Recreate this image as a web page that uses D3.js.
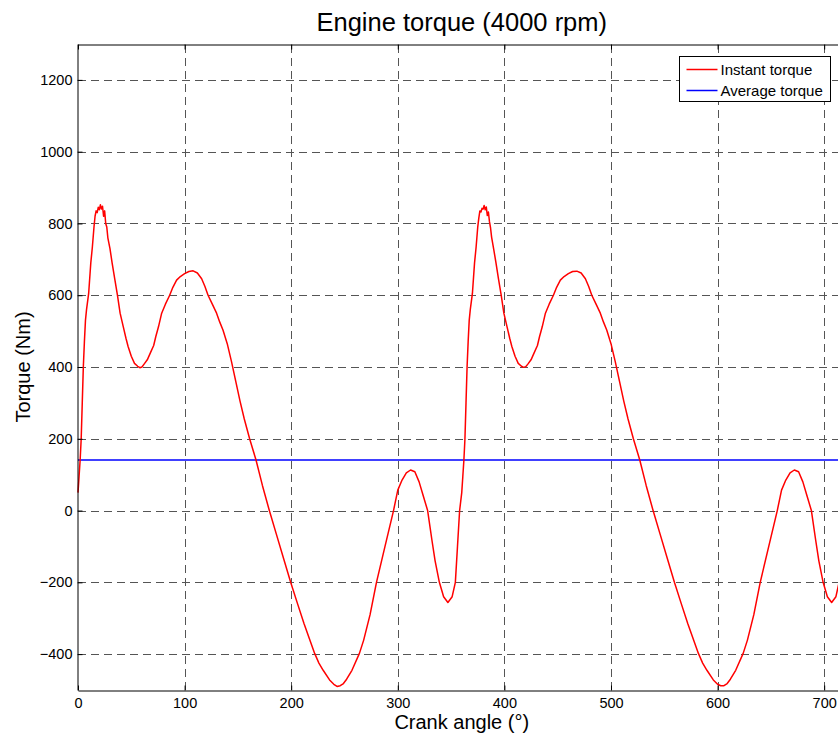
<!DOCTYPE html>
<html>
    <head>
        <title>Engine torque</title>
        <script src="https://d3js.org/d3.v7.min.js"></script>
        <style>
            body { margin: 0; background: #fff; }
            text { font-family: "Liberation Sans", Arial, Helvetica, sans-serif; fill: #000; }
        </style>
    </head>
    <body>
        <script>
            // crank angle (deg) and instant torque (Nm)
            var crankAngle = [
                0,1,2,3,4,5,6,7,8,10,12,13.5,15,16,17,18,19,20,21,22,23,24,25,26,27,28,30,32,34.5,37,39.5,42.5,45,47,50,53,56,58,60,62,65,68,71,73,75.5,78.5,82,86,89,92.5,96,100,104,108,112,116,119,122,126,130,133,136,140,144,148,152,156,161,167,173,179.5,186,193,199.5,206,212,218,222,226,230,236,240,243,246,249,252,257,264,268,274,280,288,296,300,304,308,312,316,320,324,328,332,335,339,343,347,351,354,356,358,
                360,361,362,363,364,365,366,367,368,370,372,373.5,375,376,377,378,379,380,381,382,383,384,385,386,387,388,390,392,394.5,397,399.5,402.5,405,407,410,413,416,418,420,422,425,428,431,433,435.5,438.5,442,446,449,452.5,456,460,464,468,472,476,479,482,486,490,493,496,500,504,508,512,516,521,527,533,539.5,546,553,559.5,566,572,578,582,586,590,596,600,603,606,609,612,617,624,628,634,640,648,656,660,664,668,672,676,680,684,688,692,695,699,703,707,711,714,716,718,720
            ];
            var instantTorque = [
                50,95,140,200,300,400,470,530,560,605,690,735,790,820,835,830,845,838,852,840,848,820,835,800,790,760,730,690,645,600,550,512,480,457,430,410,402,398,400,408,420,440,460,485,512,550,575,600,622,642,652,660,666,668,662,646,625,600,575,550,525,503,465,415,360,305,255,200,141,70,0,-65,-135,-200,-260,-315,-365,-398,-425,-445,-472,-484,-490,-488,-482,-470,-445,-398,-361,-290,-200,-100,0,57,85,105,113,108,80,40,0,-82,-140,-200,-240,-256,-240,-200,-100,0,
                50,95,140,200,300,400,470,530,560,605,690,735,790,815,835,832,842,840,850,838,846,822,832,805,788,762,728,692,645,600,550,512,480,457,430,410,402,399,401,408,420,440,460,485,512,550,575,600,622,642,652,660,666,667,662,646,625,600,575,550,525,503,465,415,360,305,255,200,141,70,0,-65,-135,-200,-260,-315,-365,-398,-425,-445,-472,-484,-488,-488,-482,-470,-445,-398,-361,-290,-200,-100,0,57,85,105,113,108,80,40,0,-82,-140,-200,-240,-256,-240,-200,-100,0,55
            ];
            var averageTorque = 141;

            var xTicks = [0,100,200,300,400,500,600,700];
            var yTicks = [-400,-200,0,200,400,600,800,1000,1200];
            var legendLabels = ["Instant torque","Average torque"];
            var legendColors = ["#ff0000","#0000ff"];

            var width = 838;
            var height = 734;
            var plotLeft = 78, plotRight = 845.5, plotTop = 44, plotBottom = 690;

            var x = d3.scaleLinear().domain([0,720]).range([plotLeft,plotRight]);
            var y = d3.scaleLinear().domain([-500,1300]).range([plotBottom,plotTop]);

            var svg = d3.select("body")
                        .append("svg")
                        .attr("width",width)
                        .attr("height",height);

            // grid
            var grid = svg.append("g")
                          .attr("stroke","#555")
                          .attr("stroke-width",1)
                          .attr("stroke-dasharray","8,5");
            grid.selectAll("line.vx")
                .data(xTicks.filter(function(d){ return d > 0; }))
                .enter()
                    .append("line")
                    .attr("x1",function(d){ return Math.round(x(d)) + 0.5; })
                    .attr("x2",function(d){ return Math.round(x(d)) + 0.5; })
                    .attr("y1",plotBottom)
                    .attr("y2",plotTop);
            grid.selectAll("line.hy")
                .data(yTicks)
                .enter()
                    .append("line")
                    .attr("y1",function(d){ return Math.round(y(d)) + 0.5; })
                    .attr("y2",function(d){ return Math.round(y(d)) + 0.5; })
                    .attr("x1",plotLeft)
                    .attr("x2",plotRight);

            // data lines
            var plot = svg.append("g");
            var line = d3.line()
                         .x(function(d){ return x(d[0]); })
                         .y(function(d){ return y(d[1]); });

            var instant = crankAngle.map(function(a,i){ return [a, instantTorque[i]]; });

            plot.append("path")
                .datum([[0,averageTorque],[720,averageTorque]])
                .attr("d",line)
                .attr("fill","none")
                .attr("stroke","#0000ff")
                .attr("stroke-width",1.6);

            plot.append("path")
                .datum(instant)
                .attr("d",line)
                .attr("fill","none")
                .attr("stroke","#ff0000")
                .attr("stroke-width",1.5)
                .attr("stroke-linejoin","round");

            // axes (MATLAB style, ticks inward, box)
            var xAxis = d3.axisBottom(x).tickValues(xTicks).tickSize(-5).tickPadding(7).tickSizeOuter(0).tickFormat(d3.format("d"));
            var yAxis = d3.axisLeft(y).tickValues(yTicks).tickSize(-5).tickPadding(5).tickSizeOuter(0).tickFormat(d3.format("d"));
            var xTop = d3.axisTop(x).tickValues(xTicks).tickSize(-5).tickFormat("").tickSizeOuter(0);

            svg.append("g")
               .attr("transform","translate(0," + (plotBottom + 0.5) + ")")
               .call(xAxis)
               .selectAll("text")
                  .attr("font-size",14.5)
                  .attr("font-family","Liberation Sans, Arial, sans-serif");

            svg.append("g")
               .attr("transform","translate(0," + (plotTop + 0.5) + ")")
               .call(xTop);

            svg.append("g")
               .attr("transform","translate(" + (plotLeft - 0.5) + ",0)")
               .call(yAxis)
               .selectAll("text")
                  .attr("font-size",14.5)
                  .attr("font-family","Liberation Sans, Arial, sans-serif");

            svg.selectAll(".domain").attr("stroke","#000");
            svg.selectAll(".tick line").attr("stroke","#000");

            // title and axis labels
            svg.append("text")
               .attr("x",(plotLeft + plotRight) / 2)
               .attr("y",31)
               .attr("text-anchor","middle")
               .attr("font-size",25.5)
               .text("Engine torque (4000 rpm)");

            svg.append("text")
               .attr("x",(plotLeft + plotRight) / 2)
               .attr("y",729)
               .attr("text-anchor","middle")
               .attr("font-size",20)
               .text("Crank angle (°)");

            svg.append("text")
               .attr("transform","translate(30," + ((plotTop + plotBottom) / 2) + ") rotate(-90)")
               .attr("text-anchor","middle")
               .attr("font-size",20)
               .text("Torque (Nm)");

            // legend
            var legend = svg.append("g").attr("transform","translate(679.5,56.5)");
            legend.append("rect")
                  .attr("width",151)
                  .attr("height",45)
                  .attr("fill","#fff")
                  .attr("stroke","#000");
            var rows = legend.selectAll("g.row")
                             .data(legendLabels)
                             .enter()
                                .append("g")
                                .attr("transform",function(d,i){ return "translate(0," + (13 + i * 21) + ")"; });
            rows.append("line")
                .attr("x1",7).attr("x2",38)
                .attr("stroke",function(d,i){ return legendColors[i]; })
                .attr("stroke-width",1.5);
            rows.append("text")
                .attr("x",41)
                .attr("y",5.5)
                .attr("font-size",15)
                .text(function(d){ return d; });
        </script>
    </body>
</html>
